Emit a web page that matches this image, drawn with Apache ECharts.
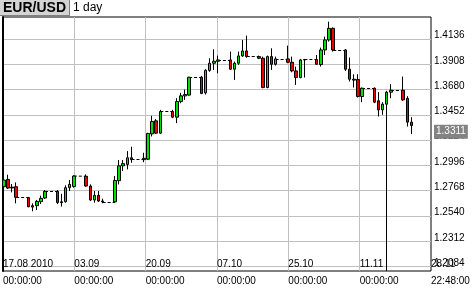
<!DOCTYPE html>
<html>
<head>
<meta charset="utf-8">
<script src="https://cdn.jsdelivr.net/npm/echarts@6.0.0/dist/echarts.min.js"></script>
<style>html,body{margin:0;padding:0;background:#fff}#c{width:475px;height:290px}</style>
</head>
<body>
<div id="c"></div>
<script>
const dates = ['2010-08-17','2010-08-18','2010-08-19','2010-08-20',
'2010-08-23','2010-08-24','2010-08-25','2010-08-26','2010-08-27',
'2010-08-30','2010-08-31','2010-09-01','2010-09-02','2010-09-03',
'2010-09-06','2010-09-07','2010-09-08','2010-09-09','2010-09-10',
'2010-09-13','2010-09-14','2010-09-15','2010-09-16','2010-09-17',
'2010-09-20','2010-09-21','2010-09-22','2010-09-23','2010-09-24',
'2010-09-27','2010-09-28','2010-09-29','2010-09-30','2010-10-01',
'2010-10-04','2010-10-05','2010-10-06','2010-10-07','2010-10-08',
'2010-10-11','2010-10-12','2010-10-13','2010-10-14','2010-10-15',
'2010-10-18','2010-10-19','2010-10-20','2010-10-21','2010-10-22',
'2010-10-25','2010-10-26','2010-10-27','2010-10-28','2010-10-29',
'2010-11-01','2010-11-02','2010-11-03','2010-11-04','2010-11-05',
'2010-11-08','2010-11-09','2010-11-10','2010-11-11','2010-11-12',
'2010-11-15','2010-11-16','2010-11-17','2010-11-18','2010-11-19',
'2010-11-22','2010-11-23','2010-11-24'];
const opens = [1.2804,1.2870,1.2800,1.2804,
1.2706,1.2633,1.2633,1.2669,1.2702,
1.2762,1.2668,1.2669,1.2795,1.2806,
1.2898,1.2810,1.2684,1.2726,1.2675,
1.2668,1.2858,1.2992,1.3005,1.3065,
1.3048,1.3052,1.3280,1.3398,1.3287,
1.3482,1.3431,1.3572,1.3623,1.3630,
1.3791,1.3650,1.3852,1.3917,1.3935,
1.3947,1.3863,1.3917,1.3983,1.4028,
1.3977,1.3962,1.3698,1.3977,1.3908,
1.3956,1.3926,1.3848,1.3788,1.3947,
1.3950,1.3905,1.4037,1.4127,1.4232,
1.4037,1.3863,1.3773,1.3770,1.3617,
1.3692,1.3578,1.3497,1.3548,1.3656,
1.3674,1.3600,1.3386];
const highs = [1.2924,1.2912,1.2828,1.2843,
1.2712,1.2654,1.2684,1.2723,1.2774,
1.2774,1.2740,1.2816,1.2864,1.2906,
1.2915,1.2825,1.2765,1.2765,1.2696,
1.2900,1.3044,1.3044,1.3125,1.3164,
1.3110,1.3290,1.3443,1.3413,1.3497,
1.3497,1.3602,1.3650,1.3680,1.3795,
1.3803,1.3863,1.3962,1.4043,1.3986,
1.4022,1.3932,1.4022,1.4127,1.4166,
1.3986,1.3977,1.3986,1.4052,1.3977,
1.4076,1.3977,1.3887,1.3956,1.3956,
1.3992,1.4058,1.4157,1.4292,1.4240,
1.4045,1.3968,1.3818,1.3818,1.3698,
1.3698,1.3656,1.3566,1.3668,1.3728,
1.3797,1.3620,1.3431];
const lows = [1.2790,1.2783,1.2753,1.2654,
1.2618,1.2582,1.2594,1.2648,1.2693,
1.2648,1.2625,1.2660,1.2765,1.2795,
1.2804,1.2675,1.2660,1.2666,1.2654,
1.2660,1.2825,1.2945,1.2960,1.3020,
1.3025,1.3045,1.3257,1.3280,1.3280,
1.3422,1.3377,1.3557,1.3587,1.3625,
1.3638,1.3635,1.3840,1.3857,1.3827,
1.3857,1.3767,1.3902,1.3975,1.3967,
1.3955,1.3692,1.3692,1.3857,1.3896,
1.3917,1.3836,1.3722,1.3782,1.3788,
1.3902,1.3887,1.3992,1.4112,1.4022,
1.3848,1.3752,1.3698,1.3608,1.3566,
1.3557,1.3437,1.3452,1.2044,1.3602,
1.3578,1.3347,1.3278];
const closes = [1.2864,1.2792,1.2792,1.2708,
1.2624,1.2620,1.2672,1.2699,1.2762,
1.2662,1.2660,1.2795,1.2825,1.2900,
1.2810,1.2684,1.2726,1.2675,1.2668,
1.2860,1.2992,1.3012,1.3065,1.3048,
1.3060,1.3284,1.3392,1.3287,1.3482,
1.3431,1.3572,1.3623,1.3635,1.3791,
1.3645,1.3854,1.3917,1.3935,1.3947,
1.3863,1.3917,1.3983,1.4028,1.3977,
1.3962,1.3698,1.3977,1.3908,1.3956,
1.3926,1.3848,1.3788,1.3947,1.3950,
1.3908,1.4037,1.4127,1.4232,1.4037,
1.3863,1.3773,1.3765,1.3617,1.3692,
1.3566,1.3497,1.3548,1.3656,1.3674,
1.3587,1.3386,1.3356];
const lastPrice = 1.3311;
const yTicks = [1.2084,1.2312,1.2540,1.2768,1.2996,1.3224,1.3452,1.3680,1.3908,1.4136];
const yMin = 1.2044, yMax = 1.4334;
const xTickTop = ['17.08 2010','03.09','20.09','07.10','25.10','11.11','28.11'];
const xTickBottom = ['00:00:00','00:00:00','00:00:00','00:00:00','00:00:00','00:00:00','22:48:00'];
const axisStart = '2010-08-17T00:00:00Z';
const axisEnd = '2010-11-28T22:48:00Z';
const candleTime = 'T04:48:00Z';

const DAY = 86400000;
const t0 = Date.parse(axisStart);
const xMax = (Date.parse(axisEnd) - t0) / DAY;
const step = xMax / (xTickTop.length - 1);
const xTickVals = xTickTop.map((_, i) => i * step);
const xOf = d => (Date.parse(d + candleTime) - t0) / DAY;

const candles = dates.map((d, i) => [xOf(d), opens[i], closes[i], lows[i], highs[i]]);
const gaps = [];
for (let i = 1; i < dates.length; i++) {
  if (xOf(dates[i]) - xOf(dates[i - 1]) > 1.5) {
    gaps.push({ coords: [[xOf(dates[i - 1]), closes[i - 1]], [xOf(dates[i]), opens[i]]] });
  }
}

const FONT = "'Liberation Sans', Arial, sans-serif";
const chart = echarts.init(document.getElementById('c'), null, { renderer: 'canvas' });
chart.setOption({
  animation: false,
  backgroundColor: '#ffffff',
  title: {
    left: 0, top: 0, padding: 0,
    text: '{a|EUR/USD}{b|1 day}',
    textStyle: {
      fontWeight: 'normal',
      rich: {
        a: { fontFamily: "'Liberation Sans Narrow', 'Liberation Sans', Arial", fontWeight: 'bold', fontSize: 14,
             color: '#000', backgroundColor: '#d4d4d4', borderColor: '#808080', borderWidth: 1,
             height: 14, lineHeight: 14, padding: [1, 3, 0, 3] },
        b: { fontFamily: FONT, fontWeight: 'normal', fontSize: 12, color: '#000', padding: [0, 0, 0, 4], lineHeight: 15 }
      }
    }
  },
  grid: { left: 2, top: 17, right: 44, bottom: 18, show: true, borderColor: '#000', borderWidth: 1, backgroundColor: 'transparent' },
  xAxis: {
    type: 'value', min: 0, max: xMax,
    axisLine: { show: false },
    axisTick: { show: false, customValues: xTickVals.slice(1, -1) },
    splitLine: { show: true, lineStyle: { color: '#c0c0c0', width: 1 } },
    axisLabel: {
      customValues: xTickVals,
      showMinLabel: true, showMaxLabel: true, hideOverlap: false,
      formatter: v => { const i = Math.round(v / step); return xTickTop[i] + '\n' + xTickBottom[i]; },
      align: 'left', verticalAlign: 'top', margin: -15, lineHeight: 17,
      fontFamily: FONT, fontSize: 10, color: '#000'
    }
  },
  yAxis: [{
    type: 'value', position: 'right', min: yMin, max: yMax,
    axisLine: { show: false },
    axisTick: { show: false, customValues: yTicks },
    splitLine: { show: true, lineStyle: { color: '#c0c0c0', width: 1 } },
    axisLabel: {
      customValues: yTicks, formatter: v => v.toFixed(4),
      showMinLabel: true, showMaxLabel: true,
      align: 'left', verticalAlign: 'bottom', lineHeight: 7, margin: 3,
      fontFamily: FONT, fontSize: 10, color: '#000'
    }
  }, {
    type: 'value', position: 'left', min: yMin, max: yMax,
    axisLine: { show: true, lineStyle: { color: '#000', width: 2 } },
    axisTick: { show: false }, axisLabel: { show: false }, splitLine: { show: false }
  }],
  series: [{
    type: 'lines', coordinateSystem: 'cartesian2d', xAxisIndex: 0, yAxisIndex: 0,
    data: gaps, silent: true, z: 1,
    lineStyle: { color: '#000', width: 1, type: [3, 2], opacity: 1 }
  }, {
    type: 'candlestick', xAxisIndex: 0, yAxisIndex: 0, z: 2,
    data: candles, encode: { x: 0, y: [1, 2, 3, 4] },
    barWidth: 3, clip: true,
    itemStyle: { color: '#00e000', color0: '#ee0000', borderColor: '#000', borderColor0: '#000', borderWidth: 1 },
    markLine: {
      silent: true, symbol: 'none', animation: false, z: 10,
      lineStyle: { color: 'rgba(0,0,0,0)', width: 1, type: 'solid' },
      data: [{ yAxis: lastPrice }],
      label: { show: true, position: 'end', distance: 3, formatter: lastPrice.toFixed(4),
               color: '#fff', backgroundColor: '#838383', padding: [2, 2, 2, 2], lineHeight: 10, opacity: 1,
               fontFamily: FONT, fontSize: 10 }
    }
  }]
});
</script>
</body>
</html>
